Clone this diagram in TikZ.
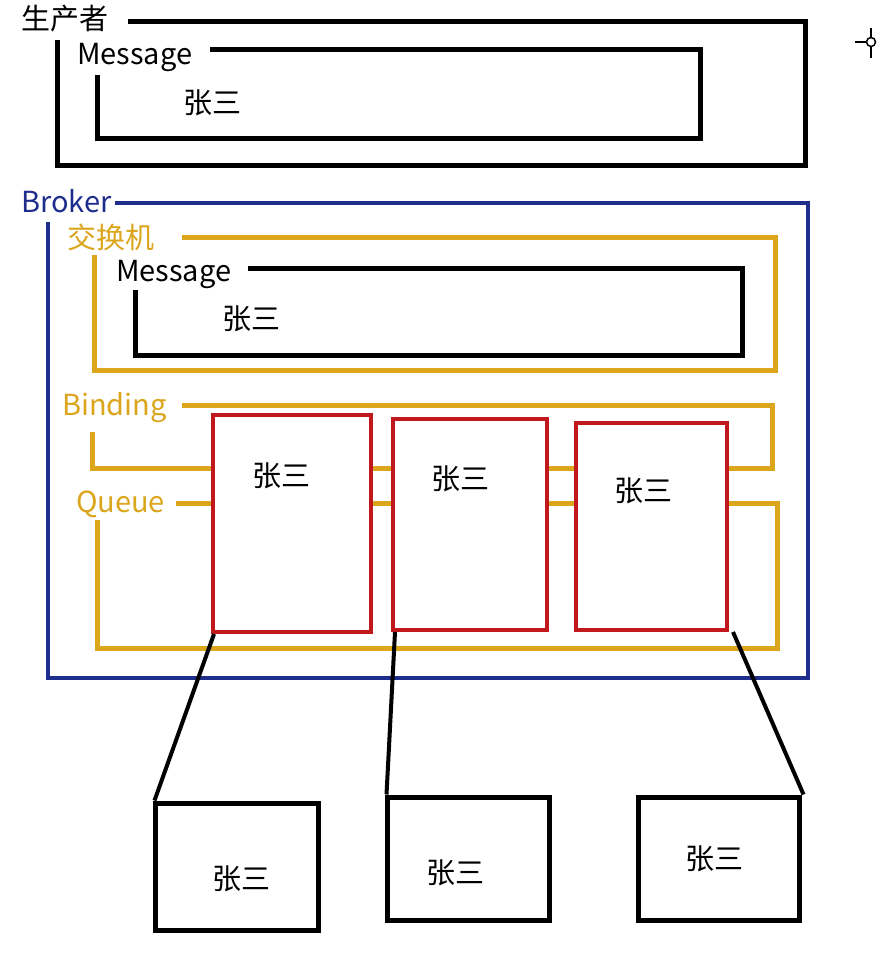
\documentclass[tikz,border=0pt]{standalone}
\usepackage{fontspec}
\newfontfamily\cjk{Noto Sans CJK SC}
\definecolor{bblue}{HTML}{1F2D8C}
\definecolor{byellow}{HTML}{DBA51C}
\definecolor{bred}{HTML}{C0181C}
\tikzset{
  lbl/.style={font=\cjk\fontsize{29}{29}\selectfont, inner sep=0pt, anchor=west, text height=0.72em, text depth=0.02em},
  zs/.style={font=\cjk\fontsize{29}{29}\selectfont, inner sep=0pt},
  blk/.style={draw=black, line width=5pt},
  blu/.style={draw=bblue, line width=3.5pt},
  ylw/.style={draw=byellow, line width=5pt},
  redbox/.style={draw=bred, line width=4pt, fill=white, inner sep=0pt},
  outbox/.style={draw=black, line width=5pt, fill=white, inner sep=0pt},
  conn/.style={draw=black, line width=4pt},
}
\begin{document}
\begin{tikzpicture}[x=1pt,y=-1pt]
\useasboundingbox (0,0) rectangle (877,963);
% producer
\node[lbl] (prod) at (21,26) {生产者};
\draw[blk] (128,22) -| (805,165) -| (57,40);
\node[lbl] (msg1) at (77,61) {Message};
\draw[blk] (210,50) -| (700,138) -| (97,75);
\node[zs] (z1) at (212,103) {张三};
% crosshair
\draw[line width=1.5pt] (871,28) -- (871,37) (871,47) -- (871,58) (855,42) -- (866,42);
\draw[line width=1.5pt] (871,42) circle (4.5);
% broker
\node[lbl, text=bblue] (brk) at (21,209) {Broker};
\draw[blu] (115,203) -| (808,678) -| (48,222);
\node[lbl, text=byellow] (exch) at (67,245) {交换机};
\draw[ylw] (182,237) -| (775,370) -| (94,255);
\node[lbl] (msg2) at (116,278) {Message};
\draw[blk] (248,268) -| (742,355) -| (135,290);
\node[zs] (z2) at (251,319) {张三};
\node[lbl, text=byellow] (bind) at (62,412) {Binding};
\draw[ylw] (182,405) -| (772,468) -| (92,432);
\node[lbl, text=byellow] (queue) at (76,509) {Queue};
\draw[ylw] (176,503) -| (777,648) -| (97,520);
% queues
\node[redbox, minimum width=158, minimum height=217] (r1) at (292,523.5) {};
\node[redbox, minimum width=154, minimum height=211] (r2) at (470,524.5) {};
\node[redbox, minimum width=151, minimum height=207] (r3) at (651.5,526.5) {};
\node[zs] (zr1) at (281,476) {张三};
\node[zs] (zr2) at (460,479) {张三};
\node[zs] (zr3) at (643,491) {张三};
% consumers
\node[outbox, minimum width=163, minimum height=127] (b1) at (236.5,866.5) {};
\node[outbox, minimum width=162, minimum height=123] (b2) at (468,858.5) {};
\node[outbox, minimum width=161, minimum height=123] (b3) at (718.5,858.5) {};
\node[zs] (zb1) at (241,879) {张三};
\node[zs] (zb2) at (455,873) {张三};
\node[zs] (zb3) at (714,859) {张三};
\draw[conn] ([xshift=3pt]r1.south west) -- ([xshift=2pt]b1.north west);
\draw[conn] ([xshift=4pt]r2.south west) -- ([xshift=2pt]b2.north west);
\draw[conn] ([xshift=4pt]r3.south east) -- ([xshift=2pt]b3.north east);
\end{tikzpicture}
\end{document}
